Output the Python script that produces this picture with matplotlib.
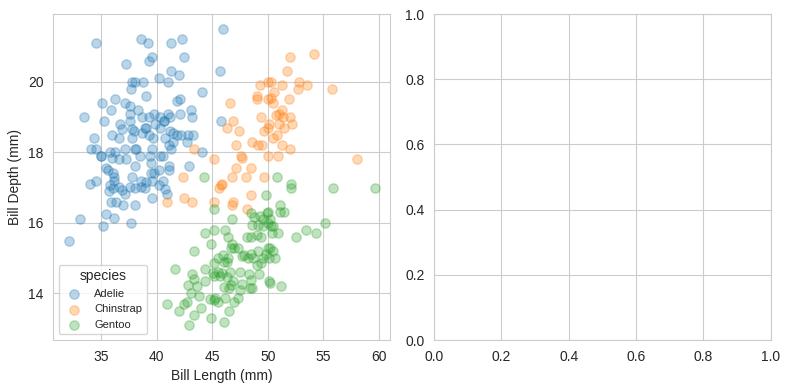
import matplotlib
matplotlib.use("Agg")
import matplotlib.pyplot as plt
import seaborn as sns

adelie_len = [34.6, 38.6, 39.2, 39.3, 37.3, 37.8, 38.1, 38.8, 37.7, 39.1, 36.3, 35.1, 37.2, 37.6, 35.9,
              38.3, 33.5, 37.6, 38.7, 35.3, 37.6, 36.7, 39.0, 37.8, 38.0, 36.9, 36.0, 36.6, 38.7, 34.4,
              37.8, 34.1, 34.6, 37.2, 38.1, 38.2, 35.8, 36.3, 35.0, 35.0, 36.0, 36.6, 37.3, 38.5, 35.5,
              35.6, 36.1, 38.1, 37.8, 34.0, 34.6,
              41.3, 42.3, 46.0, 42.5, 39.6, 41.3, 42.0, 45.7, 40.2, 41.0, 44.1, 41.8, 42.1, 43.1, 43.2,
              42.1, 39.8, 40.3, 40.7, 41.0, 41.2, 40.7, 39.3, 39.1, 39.9, 40.3, 41.2, 41.5, 41.8, 42.2,
              42.8, 43.3, 40.8, 41.5, 39.7, 39.35, 42.7, 41.1, 41.3, 44.1, 39.6, 39.4, 40.3, 40.6, 39.5,
              41.1, 41.1, 42.9, 39.5, 39.8, 40.2, 45.8,
              35.8, 36.1, 36.2, 36.2, 36.6, 36.9, 37.2, 37.6, 38.1, 38.6, 38.6, 39.0, 35.7, 35.9, 36.4,
              37.0, 38.1, 35.45, 36.2, 33.1, 35.2, 37.7, 32.1,
              39.1, 39.6, 40.2, 40.6, 40.8, 40.9, 39.55]
adelie_dep = [21.1, 21.2, 21.1, 20.6, 20.5, 20.0, 20.0, 20.0, 19.8, 19.6, 19.5, 19.4, 19.4, 19.3, 19.2,
              19.2, 19.0, 19.1, 19.0, 18.9, 18.9, 18.8, 18.7, 18.65, 18.6, 18.65, 18.5, 18.4, 18.55, 18.4,
              18.4, 18.1, 18.1, 18.1, 18.1, 18.1, 18.0, 18.0, 17.9, 17.9, 17.85, 17.8, 17.8, 17.9, 17.55,
              17.5, 17.4, 17.6, 17.3, 17.1, 17.2,
              21.1, 21.2, 21.5, 20.7, 20.7, 20.3, 20.2, 20.3, 20.1, 20.0, 19.7, 19.45, 19.5, 19.2, 19.0,
              19.1, 19.1, 19.0, 18.9, 19.1, 19.0, 18.9, 19.0, 18.7, 18.8, 18.7, 18.6, 18.55, 18.5, 18.5,
              18.5, 18.5, 18.4, 18.3, 18.4, 18.5, 18.3, 18.2, 18.1, 18.0, 18.1, 17.9, 17.9, 17.9, 17.7,
              17.6, 17.5, 17.6, 17.4, 17.4, 17.5, 18.9,
              17.06, 17.0, 17.3, 17.2, 17.03, 16.94, 16.83, 17.03, 17.0, 17.2, 17.03, 17.0, 16.9, 16.6, 16.6,
              16.5, 16.5, 16.25, 16.13, 16.1, 15.9, 16.0, 15.5,
              17.15, 17.2, 17.06, 17.2, 16.97, 16.83, 16.71]

chinstrap_len = [49.3, 49.0, 49.0, 50.0, 46.6, 49.4, 46.9, 46.3, 47.4, 49.7, 50.0, 48.6, 47.1, 49.1, 49.5,
                 43.4, 45.2, 47.6, 47.7, 50.0, 47.1, 46.8, 48.5, 48.0, 49.7, 42.4,
                 52.0, 54.2, 51.7, 50.3, 51.3, 52.8, 52.7, 53.5, 55.8, 50.6, 50.3, 50.5, 50.0, 51.9, 51.3,
                 51.0, 50.7, 51.4, 52.0, 50.15, 51.0, 52.2, 51.5, 50.8, 50.5, 51.3, 52.0, 50.96, 58.0,
                 42.5, 43.2, 40.9, 45.2, 45.8, 45.6, 45.9, 48.5, 46.9, 46.8, 48.1]
chinstrap_dep = [19.9, 19.6, 19.5, 20.0, 19.4, 19.0, 18.9, 18.7, 18.6, 18.6, 18.7, 18.3, 18.2, 18.2, 18.2,
                 18.1, 17.8, 17.9, 17.85, 17.9, 17.55, 17.3, 17.55, 17.3, 17.3, 17.3,
                 20.7, 20.8, 20.3, 20.0, 19.9, 20.0, 19.8, 19.9, 19.8, 19.7, 19.55, 19.4, 19.5, 19.5, 19.2,
                 19.1, 19.07, 19.0, 19.0, 18.8, 18.8, 18.8, 18.7, 18.5, 18.4, 18.2, 18.1, 17.9, 17.8,
                 16.7, 16.6, 16.6, 16.6, 17.06, 17.0, 17.1, 16.8, 16.6, 16.5, 16.4]

gentoo_len = [44.3, 45.2, 49.8, 46.8, 48.5, 48.8, 49.3, 49.6, 49.9, 48.6, 49.1, 49.6, 50.0, 46.2, 46.4,
              45.2, 44.4, 49.0, 49.4, 48.5, 48.1, 44.9, 46.8, 47.0, 46.7, 47.3, 43.4, 45.5, 46.0, 46.1,
              46.3, 46.4, 47.7, 47.9, 48.5, 49.1, 49.6, 49.8, 50.0, 49.4, 49.0, 48.7, 48.2, 40.9, 41.7,
              44.4, 45.2, 43.2, 43.4, 42.8, 43.6, 43.1, 44.4, 45.1, 45.2, 45.5, 45.7, 45.9, 46.3, 46.6,
              46.9, 46.7, 46.5, 46.1, 47.5, 47.7, 47.5, 47.3, 48.3, 48.5, 48.6, 48.4, 49.2, 50.1, 43.8,
              44.8, 45.2, 45.3, 45.5, 47.0, 46.2, 42.5, 42.7, 42.0, 44.0, 43.4, 44.9, 46.5, 46.1, 42.9,
              50.8, 52.1, 52.1, 55.9, 59.6, 51.1, 51.1, 51.5, 50.0, 50.2, 50.3, 50.5, 50.4, 50.9, 52.5,
              53.4, 54.3, 55.1, 50.2, 50.5, 50.15, 50.65, 50.2, 51.2]
gentoo_dep = [17.3, 16.4, 16.8, 16.12, 16.28, 16.17, 16.2, 16.12, 16.28, 15.95, 15.95, 15.9, 16.0, 15.8, 15.6,
              15.8, 15.7, 15.66, 15.6, 15.6, 15.6, 15.4, 15.4, 15.3, 15.3, 15.3, 15.2, 15.0, 15.1, 14.9,
              14.9, 15.0, 15.06, 15.1, 15.13, 15.2, 15.0, 15.13, 15.3, 14.85, 14.8, 15.0, 15.0, 13.7, 14.7,
              14.7, 14.85, 14.55, 14.4, 14.25, 14.2, 14.0, 14.34, 14.57, 14.5, 14.6, 14.5, 14.57, 14.47, 14.6,
              14.36, 14.24, 14.15, 14.19, 14.6, 14.28, 14.1, 13.87, 14.55, 14.38, 14.15, 14.15, 14.55, 14.34, 13.93,
              13.85, 13.8, 13.87, 13.77, 13.77, 13.87, 13.7, 13.75, 13.5, 13.6, 13.4, 13.3, 13.5, 13.2, 13.1,
              17.3, 17.1, 17.0, 17.0, 17.0, 16.5, 16.3, 16.3, 16.3, 16.1, 15.9, 15.9, 15.7, 15.7, 15.6,
              15.8, 15.7, 16.0, 15.3, 15.2, 15.0, 15.0, 14.3, 14.2]

species = ["Adelie", "Chinstrap", "Gentoo"]
colors = ["#1f77b4", "#ff7f0e", "#2ca02c"]

sns.set_style("whitegrid")
plt.rcParams["font.family"] = ["Liberation Sans", "DejaVu Sans"]

fig, (ax1, ax2) = plt.subplots(1, 2, figsize=(7.9, 3.9), dpi=100)
fig.subplots_adjust(left=0.0675, right=0.9756, top=0.964, bottom=0.1282, wspace=0.1317)

for name, xs, ys, c in zip(species, [adelie_len, chinstrap_len, gentoo_len],
                           [adelie_dep, chinstrap_dep, gentoo_dep], colors):
    ax1.scatter(xs, ys, s=45, alpha=0.3, color=c, label=name)

ax1.set_xlabel("Bill Length (mm)")
ax1.set_ylabel("Bill Depth (mm)")
ax1.set_xticks([35, 40, 45, 50, 55, 60])
ax1.set_yticks([14, 16, 18, 20])
ax1.legend(title="species", fontsize=8, title_fontsize=10, loc="lower left")

fig.savefig("out.png", dpi=100)
